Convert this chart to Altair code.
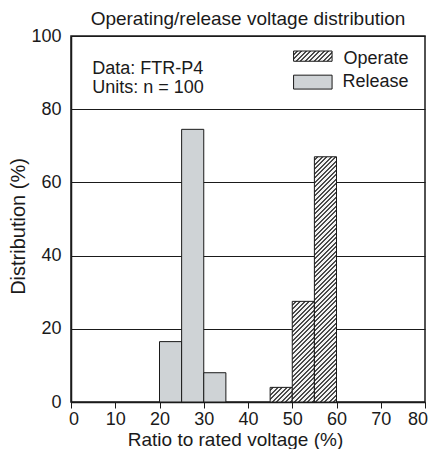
import altair as alt
import pandas as pd

# ---- data ----
release_lo = [20, 25, 30]
release_pct = [16.5, 74.5, 8.0]
operate_lo = [45, 50, 55]
operate_pct = [4.0, 27.5, 67.0]
BIN = 5
x_ticks = [0, 10, 20, 30, 40, 50, 60, 70, 80]
y_ticks = [0, 20, 40, 60, 80, 100]
note_lines = ["Data: FTR-P4", "Units: n = 100"]
legend_labels = ["Operate", "Release"]

# ---- annotation placement (data units) ----
NOTE_X = 4.8
NOTE_Y = [89.6, 84.4]
LEG_TEXT_X = 76.3
LEG_TEXT_Y = [92.3, 86.0]
LEG_SW_X = (50.3, 59.0)
LEG_SW_Y = [(95.9, 93.1), (89.3, 85.5)]

# ---- style ----
W, H = 354, 366
FONT = "Liberation Sans"
INK = "#1a1a1a"
GRAY = "#cfd3d6"


def hatch(w, h, period=4.5, dark=0.45, bg="#f4f4f4", fg="#4a4a4a"):
    """Linear gradient producing 45-degree '/' stripes inside a w x h px box."""
    k = (w + h) / (w * w + h * h)
    dt = period / (w + h)
    stops = []
    i = 0
    while i * dt < 1:
        a = i * dt
        b = min(a + (1 - dark) * dt, 1.0)
        c = min(a + dt, 1.0)
        stops += [
            {"offset": round(a, 5), "color": bg},
            {"offset": round(b, 5), "color": bg},
            {"offset": round(b, 5), "color": fg},
            {"offset": round(c, 5), "color": fg},
        ]
        i += 1
    return {"gradient": "linear", "x1": 0, "y1": 0, "x2": k * w, "y2": k * h, "stops": stops}


xs = alt.Scale(domain=[0, 80], nice=False, zero=False)
ys = alt.Scale(domain=[0, 100], nice=False)
xax = alt.Axis(values=x_ticks, title="Ratio to rated voltage (%)", titleFontSize=19,
               labelFontSize=18, tickSize=6, tickColor=INK, tickWidth=1,
               domainColor=INK, domainWidth=1.5, labelPadding=2, titlePadding=2,
               titleX=164, grid=False, labelFlush=True, labelFlushOffset=2.5)
yax = alt.Axis(values=y_ticks, title="Distribution (%)", titleFontSize=20,
               labelFontSize=18, ticks=False, labelPadding=10, titlePadding=2,
               titleY=190, grid=True, gridColor=INK, gridWidth=1, domainColor=INK,
               domainWidth=1.5)

px_x = W / 80.0
px_y = H / 100.0

rel_df = pd.DataFrame({"lo": release_lo,
                       "hi": [v + BIN for v in release_lo],
                       "pct": release_pct})

layers = []
layers.append(
    alt.Chart(rel_df).mark_rect(fill=GRAY, stroke=INK, strokeWidth=1).encode(
        x=alt.X("lo:Q", scale=xs, axis=xax),
        x2="hi:Q",
        y=alt.Y("pct:Q", scale=ys, axis=yax),
        y2=alt.datum(0),
    )
)

for lo, pct in zip(operate_lo, operate_pct):
    df = pd.DataFrame({"lo": [lo], "hi": [lo + BIN], "pct": [pct]})
    layers.append(
        alt.Chart(df).mark_rect(fill=hatch(BIN * px_x, pct * px_y), stroke=INK,
                                strokeWidth=1).encode(
            x=alt.X("lo:Q", scale=xs, axis=xax),
            x2="hi:Q",
            y=alt.Y("pct:Q", scale=ys, axis=yax),
            y2=alt.datum(0),
        )
    )

# legend swatches + labels
sw_fills = [hatch((LEG_SW_X[1] - LEG_SW_X[0]) * px_x,
                  (LEG_SW_Y[0][0] - LEG_SW_Y[0][1]) * px_y), GRAY]
for lab, fill, (ya, yb), ty in zip(legend_labels, sw_fills, LEG_SW_Y, LEG_TEXT_Y):
    one = pd.DataFrame({"label": [lab]})
    layers.append(
        alt.Chart(one).mark_rect(fill=fill, stroke=INK, strokeWidth=1).encode(
            x=alt.X(datum=LEG_SW_X[0], scale=xs, axis=xax),
            x2=alt.datum(LEG_SW_X[1]),
            y=alt.Y(datum=ya, scale=ys, axis=yax),
            y2=alt.datum(yb),
        )
    )
    layers.append(
        alt.Chart(one).mark_text(align="right", baseline="alphabetic", fontSize=18,
                                 font=FONT, color=INK).encode(
            x=alt.X(datum=LEG_TEXT_X, scale=xs, axis=xax),
            y=alt.Y(datum=ty, scale=ys, axis=yax),
            text="label:N",
        )
    )

for line, ty in zip(note_lines, NOTE_Y):
    one = pd.DataFrame({"label": [line]})
    layers.append(
        alt.Chart(one).mark_text(align="left", baseline="alphabetic", fontSize=18,
                                 font=FONT, color=INK).encode(
            x=alt.X(datum=NOTE_X, scale=xs, axis=xax),
            y=alt.Y(datum=ty, scale=ys, axis=yax),
            text="label:N",
        )
    )

chart = alt.layer(*layers).properties(
    width=W, height=H,
    title=alt.TitleParams("Operating/release voltage distribution", fontSize=19,
                          font=FONT, fontWeight="normal", color=INK,
                          anchor="middle", offset=-2),
    padding={"left": 0, "top": 2, "right": 0, "bottom": 0},
).configure_view(stroke=INK, strokeWidth=1.5).configure_axis(
    labelFont=FONT, titleFont=FONT, labelColor=INK, titleColor=INK,
    titleFontWeight="normal",
)

chart.save("out.html", embed_options={"renderer": "svg", "actions": False})
